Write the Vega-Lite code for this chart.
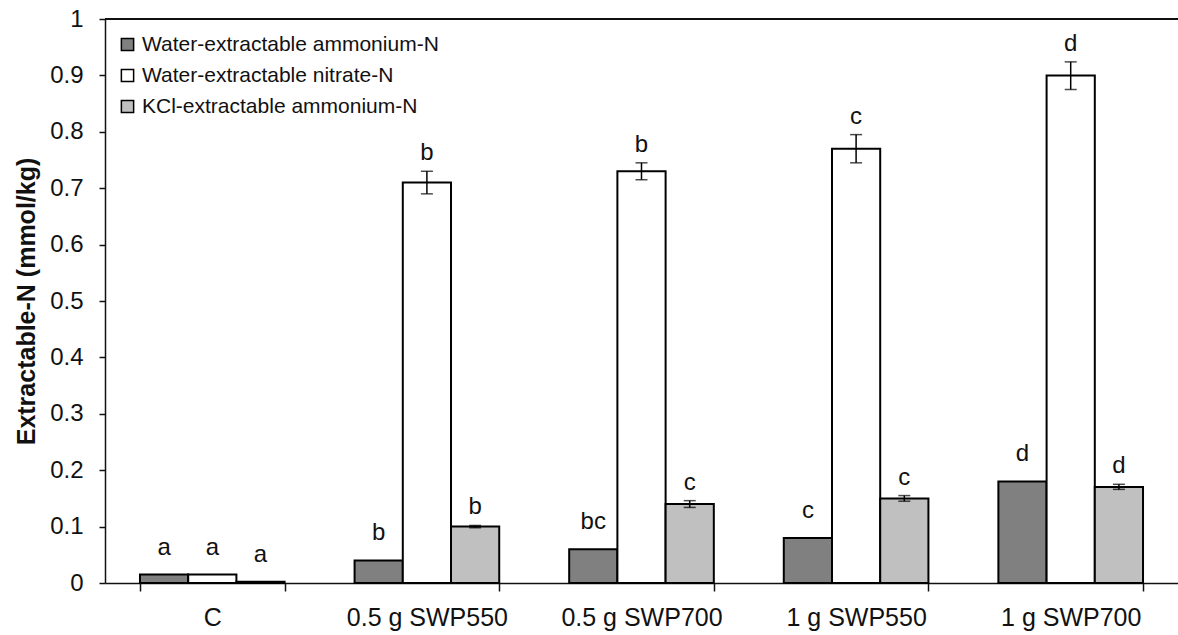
{
  "$schema": "https://vega.github.io/schema/vega-lite/v6.json",
  "autosize": "none",
  "width": 1073,
  "height": 564,
  "padding": {"left": 105, "top": 19, "right": 0, "bottom": 52},
  "background": "white",
  "config": {
    "view": {"stroke": null},
    "font": "Liberation Sans",
    "axis": {"labelFont": "Liberation Sans", "titleFont": "Liberation Sans", "labelColor": "#111", "titleColor": "#111", "domainColor": "#111", "tickColor": "#111", "domainWidth": 1.5, "tickWidth": 1.5, "grid": false},
    "legend": {"labelFont": "Liberation Sans"}
  },
  "data": {
    "values": [
      {"treatment": "C", "series": "Water-extractable ammonium-N", "value": 0.015, "lo": 0.015, "hi": 0.015, "letter": "a"},
      {"treatment": "C", "series": "Water-extractable nitrate-N", "value": 0.015, "lo": 0.015, "hi": 0.015, "letter": "a"},
      {"treatment": "C", "series": "KCl-extractable ammonium-N", "value": 0.002, "lo": 0.002, "hi": 0.002, "letter": "a"},
      {"treatment": "0.5 g SWP550", "series": "Water-extractable ammonium-N", "value": 0.04, "lo": 0.04, "hi": 0.04, "letter": "b"},
      {"treatment": "0.5 g SWP550", "series": "Water-extractable nitrate-N", "value": 0.71, "lo": 0.69, "hi": 0.73, "letter": "b"},
      {"treatment": "0.5 g SWP550", "series": "KCl-extractable ammonium-N", "value": 0.1, "lo": 0.098, "hi": 0.102, "letter": "b"},
      {"treatment": "0.5 g SWP700", "series": "Water-extractable ammonium-N", "value": 0.06, "lo": 0.06, "hi": 0.06, "letter": "bc"},
      {"treatment": "0.5 g SWP700", "series": "Water-extractable nitrate-N", "value": 0.73, "lo": 0.715, "hi": 0.745, "letter": "b"},
      {"treatment": "0.5 g SWP700", "series": "KCl-extractable ammonium-N", "value": 0.14, "lo": 0.134, "hi": 0.146, "letter": "c"},
      {"treatment": "1 g SWP550", "series": "Water-extractable ammonium-N", "value": 0.08, "lo": 0.08, "hi": 0.08, "letter": "c"},
      {"treatment": "1 g SWP550", "series": "Water-extractable nitrate-N", "value": 0.77, "lo": 0.745, "hi": 0.795, "letter": "c"},
      {"treatment": "1 g SWP550", "series": "KCl-extractable ammonium-N", "value": 0.15, "lo": 0.145, "hi": 0.155, "letter": "c"},
      {"treatment": "1 g SWP700", "series": "Water-extractable ammonium-N", "value": 0.18, "lo": 0.18, "hi": 0.18, "letter": "d"},
      {"treatment": "1 g SWP700", "series": "Water-extractable nitrate-N", "value": 0.9, "lo": 0.875, "hi": 0.924, "letter": "d"},
      {"treatment": "1 g SWP700", "series": "KCl-extractable ammonium-N", "value": 0.17, "lo": 0.166, "hi": 0.175, "letter": "d"}
    ]
  },
  "encoding": {
    "x": {
      "field": "treatment", "type": "nominal",
      "sort": ["C", "0.5 g SWP550", "0.5 g SWP700", "1 g SWP550", "1 g SWP700"],
      "scale": {"paddingInner": 0.326, "paddingOuter": 0.163},
      "axis": {"title": null, "labelAngle": 0, "labelFontSize": 25, "labelPadding": 14, "tickBand": "extent", "tickSize": 8}
    },
    "xOffset": {
      "field": "series", "type": "nominal",
      "sort": ["Water-extractable ammonium-N", "Water-extractable nitrate-N", "KCl-extractable ammonium-N"],
      "scale": {"paddingInner": 0, "paddingOuter": 0}
    }
  },
  "layer": [
    {
      "mark": {"type": "rule", "color": "#111", "strokeWidth": 1.5},
      "encoding": {"y": {"datum": 1, "type": "quantitative"}, "x": null, "xOffset": null}
    },
    {
      "mark": {"type": "bar", "stroke": "#000", "strokeWidth": 2},
      "encoding": {
        "y": {
          "field": "value", "type": "quantitative",
          "scale": {"domain": [0, 1], "nice": false},
          "axis": {"title": "Extractable-N (mmol/kg)", "titleFontSize": 25, "titleFontWeight": "bold", "titlePadding": 10, "labelFontSize": 24, "labelPadding": 16, "tickSize": 6, "values": [0, 0.1, 0.2, 0.3, 0.4, 0.5, 0.6, 0.7, 0.8, 0.9, 1], "format": "~g"}
        },
        "fill": {
          "field": "series", "type": "nominal",
          "sort": ["Water-extractable ammonium-N", "Water-extractable nitrate-N", "KCl-extractable ammonium-N"],
          "scale": {"domain": ["Water-extractable ammonium-N", "Water-extractable nitrate-N", "KCl-extractable ammonium-N"], "range": ["#808080", "#ffffff", "#c0c0c0"]},
          "legend": {"title": null, "orient": "none", "legendX": 12, "legendY": 15, "labelFontSize": 21, "labelColor": "#111", "symbolType": "square", "symbolSize": 150, "symbolStrokeColor": "#000", "symbolStrokeWidth": 1.5, "rowPadding": 9, "labelOffset": 4, "labelLimit": 500}
        }
      }
    },
    {
      "transform": [{"filter": "datum.hi > datum.value"}],
      "mark": {"type": "rule", "color": "#000", "strokeWidth": 1.5},
      "encoding": {
        "y": {"field": "lo", "type": "quantitative"},
        "y2": {"field": "hi"}
      }
    },
    {
      "transform": [{"filter": "datum.hi > datum.value"}],
      "mark": {"type": "tick", "color": "#000", "thickness": 1.5, "size": 12, "orient": "horizontal"},
      "encoding": {"y": {"field": "lo", "type": "quantitative"}}
    },
    {
      "transform": [{"filter": "datum.hi > datum.value"}],
      "mark": {"type": "tick", "color": "#000", "thickness": 1.5, "size": 12, "orient": "horizontal"},
      "encoding": {"y": {"field": "hi", "type": "quantitative"}}
    },
    {
      "transform": [{"filter": "datum.hi > datum.value"}],
      "mark": {"type": "text", "baseline": "alphabetic", "dy": -11, "fontSize": 24, "color": "#111", "font": "Liberation Sans"},
      "encoding": {
        "y": {"field": "hi", "type": "quantitative"},
        "text": {"field": "letter"}
      }
    },
    {
      "transform": [{"filter": "datum.hi <= datum.value"}],
      "mark": {"type": "text", "baseline": "alphabetic", "dy": -20, "fontSize": 24, "color": "#111", "font": "Liberation Sans"},
      "encoding": {
        "y": {"field": "hi", "type": "quantitative"},
        "text": {"field": "letter"}
      }
    }
  ]
}
